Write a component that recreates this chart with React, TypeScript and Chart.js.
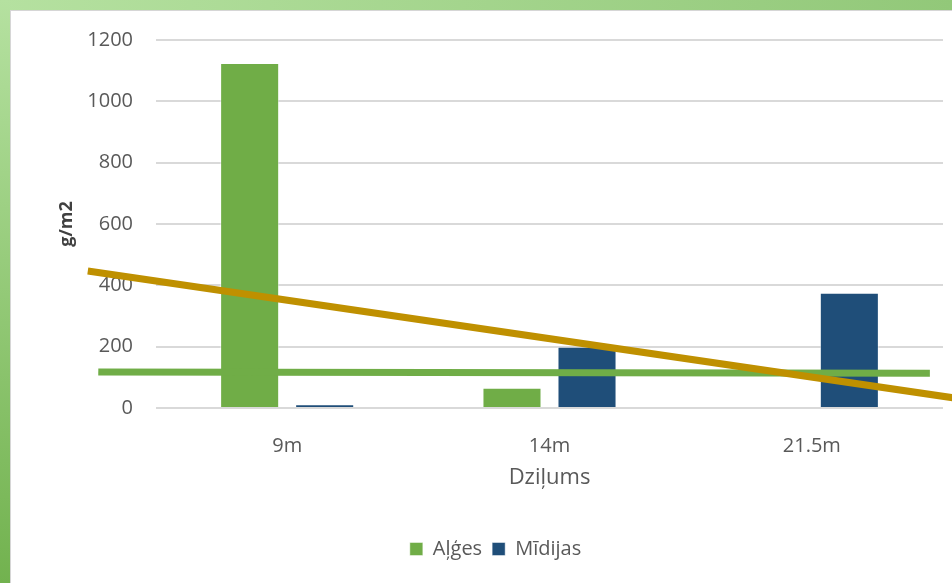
import React, { useEffect, useRef } from "react";
import { Chart, registerables } from "chart.js";

Chart.register(...registerables);

// Depth categories and biomass per series (g/m2)
const categories = ["9m", "14m", "21.5m"];
const algesValues = [1125, 66, 0];
const midijasValues = [12, 200, 376];

// Value axis range
const yMin = 0;
const yMax = 1200;
const yStep = 200;

// Overlay lines, given on a numeric depth-index axis (0 = 9m, 1 = 14m, 2 = 21.5m)
const greenLineX = [-0.72, 2.45];
const greenLineY = [117, 113];
const goldLineX = [-0.76, 2.54];
const goldLineY = [447, 33];

const FONT = "'Open Sans', 'Noto Sans', sans-serif";

// Bar sizing within each depth group (the mixed line datasets halve the
// measured category spacing, so the group share is doubled here)
const GROUP_SHARE = 1.144;
const BAR_SHARE = 0.787;

export default function App() {
  const canvasRef = useRef<HTMLCanvasElement | null>(null);

  useEffect(() => {
    document.body.style.margin = "0";
    const canvas = canvasRef.current;
    if (!canvas) return;

    const chart = new Chart(canvas, {
      type: "bar",
      data: {
        labels: categories,
        datasets: [
          {
            type: "line",
            label: "trend-gold",
            data: goldLineX.map((x, i) => ({ x, y: goldLineY[i] })),
            xAxisID: "xl",
            yAxisID: "y",
            borderColor: "#BF9000",
            borderWidth: 7,
            borderCapStyle: "butt",
            pointRadius: 0,
            tension: 0,
            clip: false,
            order: 0,
          } as any,
          {
            type: "line",
            label: "trend-green",
            data: greenLineX.map((x, i) => ({ x, y: greenLineY[i] })),
            xAxisID: "xl",
            yAxisID: "y",
            borderColor: "#70AD47",
            borderWidth: 7,
            borderCapStyle: "butt",
            pointRadius: 0,
            tension: 0,
            clip: false,
            order: 1,
          } as any,
          {
            label: "Aļģes",
            data: algesValues,
            backgroundColor: "#70AD47",
            borderColor: "rgba(255,255,255,0.45)",
            borderWidth: 1,
            categoryPercentage: GROUP_SHARE,
            barPercentage: BAR_SHARE,
            order: 2,
          },
          {
            label: "Mīdijas",
            data: midijasValues,
            backgroundColor: "#1F4E79",
            borderColor: "rgba(255,255,255,0.45)",
            borderWidth: 1,
            categoryPercentage: GROUP_SHARE,
            barPercentage: BAR_SHARE,
            order: 2,
          },
        ],
      },
      options: {
        animation: false,
        responsive: false,
        maintainAspectRatio: false,
        layout: { padding: { left: 37, right: 9, top: 29, bottom: 14 } },
        plugins: {
          tooltip: { enabled: false },
          legend: {
            position: "bottom",
            labels: {
              filter: (item: any) => !String(item.text).startsWith("trend"),
              boxWidth: 13,
              boxHeight: 13,
              padding: 10,
              color: "#595959",
              font: { family: FONT, size: 20 },
            },
          },
        },
        scales: {
          x: {
            type: "category",
            grid: { display: false },
            border: { display: false },
            ticks: {
              color: "#595959",
              font: { family: FONT, size: 20 },
              padding: 18,
            },
            title: {
              display: true,
              text: "Dziļums",
              color: "#595959",
              font: { family: FONT, size: 22 },
              padding: { top: 4, bottom: 38 },
            },
            afterFit: (scale: any) => {
              scale.height = 121;
            },
          },
          xl: {
            type: "linear",
            display: false,
            offset: false,
            grid: { offset: false },
            min: -0.5,
            max: 2.5,
          },
          y: {
            min: yMin,
            max: yMax,
            border: { display: false },
            grid: {
              color: "#d9d9d9",
              lineWidth: 2,
              drawTicks: true,
              tickLength: 20,
              tickColor: "rgba(0,0,0,0)",
            },
            ticks: {
              stepSize: yStep,
              color: "#595959",
              font: { family: FONT, size: 20 },
              padding: 3,
              callback: (value: any) => String(value),
            },
            title: {
              display: true,
              text: "g/m2",
              color: "#404040",
              font: { family: FONT, size: 18, weight: "bold" },
              padding: { top: 8, bottom: 0 },
            },
            afterFit: (scale: any) => {
              scale.width = 108;
            },
          },
        },
      } as any,
    });

    return () => chart.destroy();
  }, []);

  return (
    <div
      style={{
        position: "fixed",
        left: 0,
        top: 0,
        width: 952,
        height: 583,
        overflow: "hidden",
        background: "#ffffff",
      }}
    >
      <div
        style={{
          position: "absolute",
          left: 0,
          top: 0,
          width: 952,
          height: 10,
          background: "linear-gradient(to right, #b5e1a0, #92c879)",
        }}
      />
      <div
        style={{
          position: "absolute",
          left: 0,
          top: 0,
          width: 10,
          height: 583,
          background: "linear-gradient(to bottom, #b5e1a0, #72b24f)",
        }}
      />
      <div
        style={{
          position: "absolute",
          left: 10,
          top: 10,
          width: 942,
          height: 573,
          boxSizing: "border-box",
          borderLeft: "1px solid #d6d6d6",
          borderTop: "1px solid #d6d6d6",
          background: "#ffffff",
        }}
      />
      <canvas
        ref={canvasRef}
        width={941}
        height={572}
        style={{ position: "absolute", left: 11, top: 11, width: 941, height: 572 }}
      />
    </div>
  );
}
